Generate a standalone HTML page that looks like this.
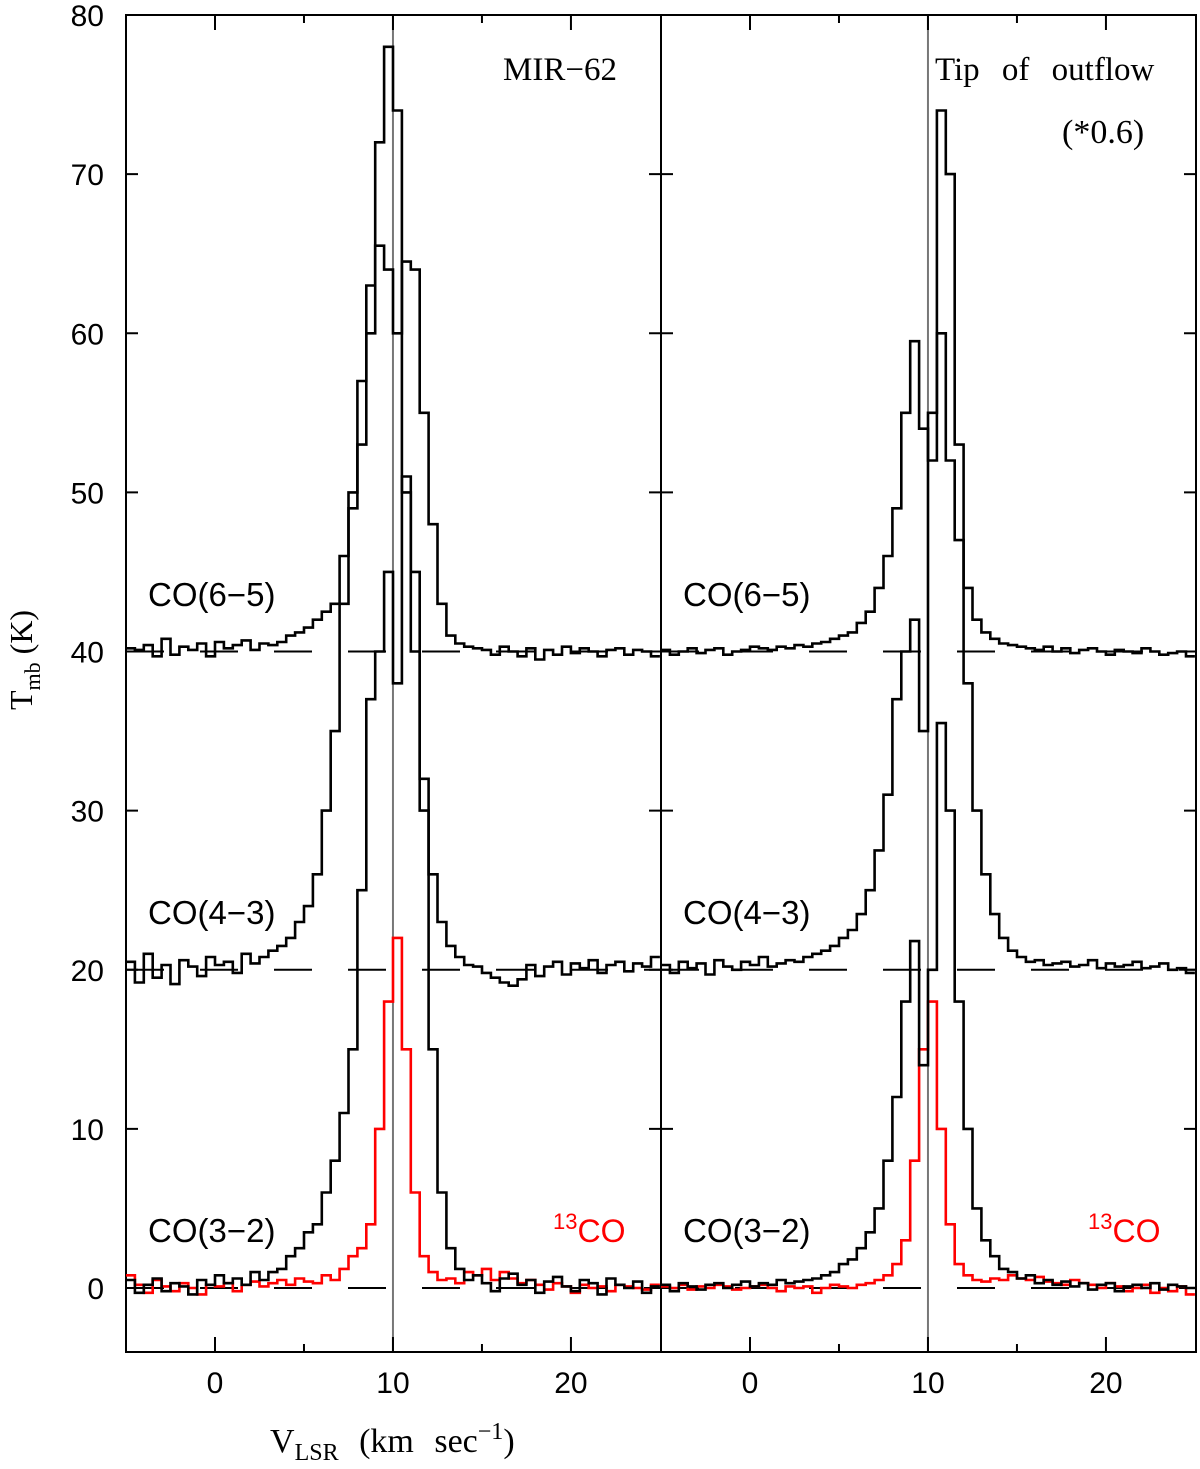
<!DOCTYPE html>
<html><head><meta charset="utf-8">
<style>
html,body{margin:0;padding:0;background:#fff;}
svg{display:block;}
</style></head>
<body>
<svg id="chart" width="1200" height="1469" viewBox="0 0 1200 1469" xmlns="http://www.w3.org/2000/svg" font-family="Liberation Sans, sans-serif">
<g id="axes"></g>
<g id="series"></g>
<g id="labels">
<text x="503" y="80" font-family="Liberation Serif, serif" font-size="33">MIR−62</text>
<text x="935" y="80" font-family="Liberation Serif, serif" font-size="33" word-spacing="14">Tip of outflow</text>
<text x="1062" y="143" font-family="Liberation Serif, serif" font-size="34">(*0.6)</text>
<text x="148" y="606" font-size="33">CO(6−5)</text>
<text x="148" y="924" font-size="33">CO(4−3)</text>
<text x="148" y="1242" font-size="33">CO(3−2)</text>
<text x="683" y="606" font-size="33">CO(6−5)</text>
<text x="683" y="924" font-size="33">CO(4−3)</text>
<text x="683" y="1242" font-size="33">CO(3−2)</text>
<text x="553" y="1242" font-size="32" fill="#f00"><tspan font-size="22" dy="-13">13</tspan><tspan dy="13">CO</tspan></text>
<text x="1088" y="1242" font-size="32" fill="#f00"><tspan font-size="22" dy="-13">13</tspan><tspan dy="13">CO</tspan></text>
<text x="270" y="1452" font-family="Liberation Serif, serif" font-size="34" word-spacing="12">V<tspan font-size="24" dy="8">LSR</tspan><tspan dy="-8"> (km sec</tspan><tspan font-size="24" dy="-13">−1</tspan><tspan dy="13">)</tspan></text>
<text transform="translate(32,710) rotate(-90)" font-family="Liberation Serif, serif" font-size="32">T<tspan font-size="22" dy="8">mb</tspan><tspan dy="-8"> (K)</tspan></text>
</g>
</svg>
<script>
const yTicks=[0,10,20,30,40,50,60,70,80];
const xTicks=[0,10,20];
const xMinor=[5,15];
const baselines=[0,20,40];
const vStart=-5, chanWidth=0.5, vSys=10;
const offsets={co32:0,co43:20,co65:40};
const L_co32=[0.5,-0.3,0.2,0.6,-0.2,0.3,0.1,-0.4,0.5,0.2,0.8,0.3,0.6,0.2,1.0,0.5,1,1.2,2,2.5,3.5,4,6,8,11,15,25,37,40,45,38,51,45,30,15,6,2.5,1.2,0.5,0.8,0.3,-0.2,0.6,0.9,0.2,0.5,-0.3,0.4,0.7,0.1,-0.2,0.5,0.3,-0.4,0.6,0.2,0.0,0.4,-0.3,0.1];
const L_co43=[0.5,-0.8,1.0,-0.5,0.3,-0.9,0.6,0.2,-0.4,0.8,0.3,0.5,-0.2,1.0,0.4,0.8,1.2,1.5,2,3,4,6,10,15,23,30,37,43,52,58,54,30,20,12,6,3,1.5,0.8,0.3,0.2,-0.2,-0.5,-0.8,-1.0,-0.6,0.3,-0.4,0.2,0.5,-0.3,0.4,0.1,0.6,-0.2,0.3,0.5,-0.1,0.4,0.2,0.8];
const L_co65=[0.2,0.1,0.4,-0.3,0.8,-0.2,0.3,0.1,0.5,-0.3,0.6,0.2,0.4,0.7,0.1,0.5,0.4,0.6,1,1.2,1.5,2,2.5,3,6,9,13,20,25.5,24,20,24.5,24,15,8,3,1,0.5,0.3,0.2,0.1,-0.2,0.3,0.0,-0.3,0.2,-0.5,0.1,-0.2,0.3,-0.1,0.2,0.0,-0.3,0.1,0.2,-0.2,0.1,0.0,-0.3];
const L_13co=[0.8,0.2,-0.3,0.5,0.1,-0.2,0.3,0.0,-0.4,0.2,0.1,0.3,-0.2,0.2,0.4,0.1,0.3,0.5,0.2,0.6,0.4,0.3,0.8,0.5,1.2,2,2.5,4,10,18,22,15,6,2,1,0.5,0.6,0.3,1.0,0.8,1.2,0.5,1.0,0.6,0.3,0.5,0.2,-0.1,0.3,0.1,-0.3,0.2,0.0,0.1,-0.2,0.2,0.1,0.0,-0.1,0.2];
const R_co32=[0.2,-0.2,0.3,0.1,-0.1,0.2,0.3,0.0,0.2,0.4,0.1,0.3,0.2,0.5,0.3,0.4,0.5,0.6,0.8,1.0,1.5,1.8,2.5,3.5,5,8,12,18,21.8,14,20,35.5,30,18,10,5,3,2,1.2,1.0,0.6,0.8,0.3,0.5,0.2,0.4,0.1,0.3,-0.1,0.2,0.3,-0.2,0.1,0.2,0.0,0.3,-0.1,0.2,0.1,0.0];
const R_co43=[0.3,-0.2,0.5,0.1,0.4,-0.3,0.6,0.2,0.0,0.5,0.3,0.8,0.2,0.4,0.6,0.5,0.8,1,1.2,1.5,2,2.5,3.5,5,7.5,11,17,20,22,15,35,54,50,33,18,10,6,3.5,2,1.2,0.8,0.5,0.6,0.3,0.4,0.5,0.2,0.3,0.6,0.1,0.4,0.2,0.3,0.5,0.1,0.2,0.4,0.0,0.1,-0.2];
const R_co65=[0.1,-0.2,0.0,0.2,-0.1,0.1,0.2,-0.2,0.0,0.1,0.3,0.2,0.1,0.3,0.2,0.4,0.3,0.5,0.6,0.8,1,1.2,1.8,2.5,4,6,9,15,19.5,14,12,20,12,7,4,2,1.2,0.8,0.5,0.4,0.3,0.2,0.1,0.3,0.0,0.2,-0.1,0.1,0.2,0.0,-0.2,0.1,0.0,-0.1,0.2,0.0,-0.2,-0.1,0.0,-0.3];
const R_13co=[0.1,0.0,0.2,-0.1,0.1,0.0,0.2,0.1,-0.1,0.0,0.1,0.2,0.0,-0.2,0.1,0.0,0.1,-0.3,0.0,0.2,0.1,0.0,0.2,0.3,0.5,0.8,1.5,3,8,15,18,10,4,1.5,0.8,0.5,0.4,0.6,0.5,0.8,0.6,0.5,0.7,0.4,0.3,0.2,0.5,0.3,0.2,0.0,0.3,0.1,-0.2,0.0,0.2,-0.3,0.0,-0.2,0.1,-0.4];

const NS="http://www.w3.org/2000/svg";
const plotTop=15,plotBottom=1352;
const panels=[{x0:126,x1:661,side:'left'},{x0:661,x1:1196,side:'right'}];
const vMin=-5,vMax=25.06;
function yScale(t){return 1288-t*(1288-15)/80;}
function xScale(p,v){return p.x0+(v-vMin)*(p.x1-p.x0)/(vMax-vMin);}
function mk(tag,attrs,parent){const e=document.createElementNS(NS,tag);for(const k in attrs)e.setAttribute(k,attrs[k]);parent.appendChild(e);return e;}
const axes=document.getElementById('axes'),series=document.getElementById('series');

panels.forEach((p,pi)=>{
  const vl=mk('line',{x1:xScale(p,vSys),x2:xScale(p,vSys),y1:plotTop,y2:plotBottom,stroke:'#777','stroke-width':2},axes);
  
  
  baselines.forEach(b=>{
    const l=mk('line',{x1:p.x0,x2:p.x1,y1:yScale(b),y2:yScale(b),stroke:'#000','stroke-width':2,'stroke-dasharray':'38 36'},axes);
    
    
  });
  yTicks.forEach(t=>{
    const y=yScale(t);
    mk('line',{x1:p.x0,x2:p.x0+12,y1:y,y2:y,stroke:'#000','stroke-width':2},axes);
    mk('line',{x1:p.x1,x2:p.x1-12,y1:y,y2:y,stroke:'#000','stroke-width':2},axes);
    if(pi===0){
      const tx=mk('text',{x:104,y:y+11,'text-anchor':'end','font-size':30},axes);
      tx.textContent=t;
      
      
    }
  });
  xTicks.forEach(t=>{
    const x=xScale(p,t);
    mk('line',{x1:x,x2:x,y1:plotBottom,y2:plotBottom-15,stroke:'#000','stroke-width':2},axes);
    mk('line',{x1:x,x2:x,y1:plotTop,y2:plotTop+15,stroke:'#000','stroke-width':2},axes);
    const tx=mk('text',{x:x,y:1393,'text-anchor':'middle','font-size':30},axes);
    tx.textContent=t;
    
    
  });
  xMinor.forEach(t=>{
    const x=xScale(p,t);
    mk('line',{x1:x,x2:x,y1:plotBottom,y2:plotBottom-8,stroke:'#000','stroke-width':2},axes);
    mk('line',{x1:x,x2:x,y1:plotTop,y2:plotTop+8,stroke:'#000','stroke-width':2},axes);
  });
  const fr=mk('rect',{x:p.x0,y:plotTop,width:p.x1-p.x0,height:plotBottom-plotTop,fill:'none',stroke:'#000','stroke-width':2},axes);
  
  
});

function drawSpec(p,vals,off,color,name){
  let d='';
  vals.forEach((v,i)=>{
    const xa=xScale(p,vStart+i*chanWidth),xb=xScale(p,vStart+(i+1)*chanWidth);
    const y=yScale(v+off);
    d+=(i===0?'M':'L')+xa.toFixed(1)+','+y.toFixed(1)+'L'+Math.min(xb,p.x1).toFixed(1)+','+y.toFixed(1);
  });
  const path=mk('path',{d:d,fill:'none',stroke:color,'stroke-width':2.6},series);
  
  
}
drawSpec(panels[0],L_13co,0,'#f00','spectrum-13co-left');
drawSpec(panels[0],L_co32,offsets.co32,'#000','spectrum-co32-left');
drawSpec(panels[0],L_co43,offsets.co43,'#000','spectrum-co43-left');
drawSpec(panels[0],L_co65,offsets.co65,'#000','spectrum-co65-left');
drawSpec(panels[1],R_13co,0,'#f00','spectrum-13co-right');
drawSpec(panels[1],R_co32,offsets.co32,'#000','spectrum-co32-right');
drawSpec(panels[1],R_co43,offsets.co43,'#000','spectrum-co43-right');
drawSpec(panels[1],R_co65,offsets.co65,'#000','spectrum-co65-right');
</script>
</body></html>
